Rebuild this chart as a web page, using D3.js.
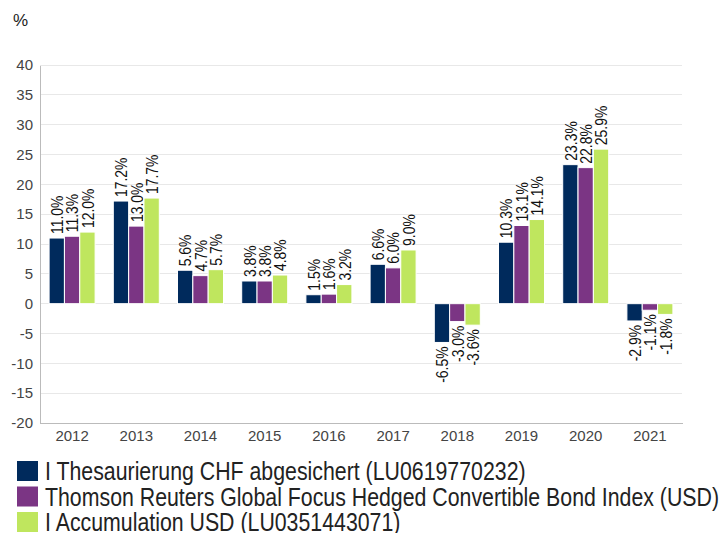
<!DOCTYPE html>
<html><head><meta charset="utf-8">
<script src="https://cdn.jsdelivr.net/npm/d3@7"></script>
<style>body{margin:0;background:#fff}svg{display:block;font-family:"Liberation Sans",Arial,sans-serif}</style>
</head><body><svg id="c" width="720" height="533"></svg>
<script>
const years = ["2012","2013","2014","2015","2016","2017","2018","2019","2020","2021"];
const seriesNames = ["I Thesaurierung CHF abgesichert (LU0619770232)","Thomson Reuters Global Focus Hedged Convertible Bond Index (USD)","I Accumulation USD (LU0351443071)"];
const s1 = [11.0,17.2,5.6,3.8,1.5,6.6,-6.5,10.3,23.3,-2.9];
const s2 = [11.3,13.0,4.7,3.8,1.6,6.0,-3.0,13.1,22.8,-1.1];
const s3 = [12.0,17.7,5.7,4.8,3.2,9.0,-3.6,14.1,25.9,-1.8];
const colors = ["#002A5C","#7B3584","#BFE65E"];
const yTicks = [40,35,30,25,20,15,10,5,0,-5,-10,-15,-20];

const svg = d3.select("#c");
const L=40,R=682,T=65,B=423;
const y = d3.scaleLinear().domain([-20,40]).range([B,T]);
const xc = d3.scaleBand().domain(years).range([L,R]);

// gridlines
svg.append("g").selectAll("line").data(yTicks).join("line")
  .attr("x1",L).attr("x2",R).attr("y1",d=>y(d)).attr("y2",d=>y(d))
  .attr("stroke","#e8e8e8").attr("stroke-width",1).attr("shape-rendering","crispEdges");

// y axis
const ya = svg.append("g").attr("transform",`translate(${L},0)`)
  .call(d3.axisLeft(y).tickValues(yTicks).tickFormat(d=>String(d)).tickSize(0).tickPadding(7));
ya.select(".domain").attr("stroke","#bbb").attr("shape-rendering","crispEdges");
ya.selectAll("text").attr("font-size",15).attr("fill","#444").attr("font-family","Liberation Sans, Arial, sans-serif");

// x axis
const xa = svg.append("g").attr("transform",`translate(0,${B})`)
  .call(d3.axisBottom(xc).tickSize(0).tickPadding(7));
xa.select(".domain").attr("stroke","#bbb").attr("shape-rendering","crispEdges");
xa.selectAll("text").attr("font-size",15).attr("fill","#444").attr("font-family","Liberation Sans, Arial, sans-serif");

const groupW = 46;
const bx = d3.scaleBand().domain([0,1,2]).range([0,groupW]);

const all=[s1,s2,s3];
all.forEach((s,si)=>{
  const g = svg.append("g");
  g.selectAll("rect").data(s).join("rect")
    .attr("x",(d,i)=>xc(years[i])+xc.bandwidth()/2-groupW/2+bx(si))
    .attr("width",bx.bandwidth())
    .attr("y",d=>y(Math.max(0,d)))
    .attr("height",d=>Math.abs(y(d)-y(0)))
    .attr("fill",colors[si]).attr("stroke","#fff").attr("stroke-width",1);
  g.selectAll("text").data(s).join("text")
    .attr("transform",(d,i)=>{
      const cx = xc(years[i])+xc.bandwidth()/2-groupW/2+bx(si)+bx.bandwidth()/2+6.3;
      const yy = d>=0 ? y(d)-4 : y(d)+4;
      return `translate(${cx},${yy}) rotate(-90) scale(0.82,1)`;
    })
    .attr("text-anchor",d=>d>=0?"start":"end")
    .attr("font-size",17).attr("fill","#111")
    .text(d=>d.toFixed(1)+"%");
});

svg.append("text").attr("x",13).attr("y",26).attr("font-size",17).attr("fill","#222").text("%");

// legend
const lg = svg.append("g");
seriesNames.forEach((n,i)=>{
  const yy = 461 + i*25.5;
  lg.append("rect").attr("x",17).attr("y",yy).attr("width",21).attr("height",20).attr("fill",colors[i]);
  lg.append("text").attr("transform",`translate(45,${yy+19}) scale(0.82,1)`)
    .attr("font-size",26).attr("fill","#222").text(n);
});
</script></body></html>
